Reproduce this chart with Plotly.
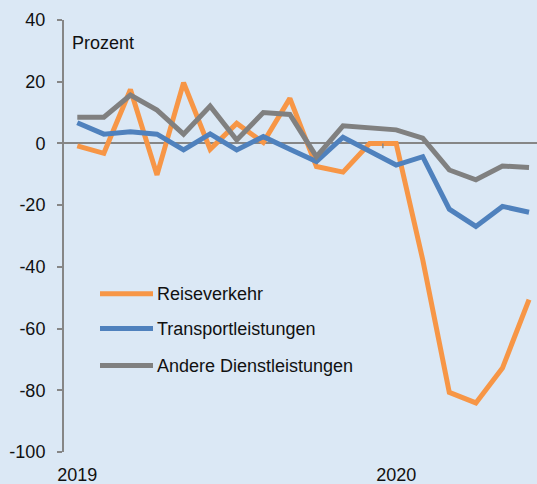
import plotly.graph_objects as go

months = ["2019-01", "2019-02", "2019-03", "2019-04", "2019-05", "2019-06",
          "2019-07", "2019-08", "2019-09", "2019-10", "2019-11", "2019-12",
          "2020-01", "2020-02", "2020-03", "2020-04", "2020-05", "2020-06"]
reiseverkehr = [-0.8, -3.2, 17.5, -10.2, 19.7, -1.9, 6.5, 0.3, 14.6, -7.5, -9.3, 0.0,
                0.0, -37.7, -80.7, -84.1, -72.8, -50.6]
transport = [6.7, 3.0, 3.8, 3.0, -2.1, 3.1, -2.1, 2.2, -1.9, -5.9, 2.0, -2.6,
             -7.0, -4.3, -21.3, -26.9, -20.4, -22.3]
andere = [8.5, 8.5, 15.7, 10.8, 3.0, 12.1, 1.1, 10.0, 9.4, -4.3, 5.7, 4.9,
          4.4, 1.7, -8.6, -11.8, -7.3, -7.8]
series_names = ["Reiseverkehr", "Transportleistungen", "Andere Dienstleistungen"]
series_values = [reiseverkehr, transport, andere]
colors = ["#F79646", "#4F81BD", "#808080"]
year_ticks = [0, 12]
year_labels = ["2019", "2020"]
y_ticks = [40, 20, 0, -20, -40, -60, -80, -100]
y_tick_labels = ["40", "20", "0", "-20", "-40", "-60", "-80", "-100"]

x = list(range(len(months)))
font = "Liberation Sans, Arial, sans-serif"
bg = "#DBE8F5"
fs = 18

fig = go.Figure()
for name, vals, col in zip(series_names, series_values, colors):
    fig.add_trace(go.Scatter(x=x, y=vals, mode="lines", name=name,
                             line=dict(color=col, width=5),
                             showlegend=False))

# manual legend
legend_y = [-48.7, -60.0, -72.0]
for name, col, ly in zip(series_names, colors, legend_y):
    fig.add_shape(type="line", xref="paper", yref="y",
                  x0=(100 - 64) / 473, x1=(153 - 64) / 473, y0=ly, y1=ly,
                  line=dict(color=col, width=5))
    fig.add_annotation(text=name, xref="paper", yref="y",
                       x=(155 - 64) / 473, y=ly, xanchor="left", yanchor="middle",
                       showarrow=False, font=dict(family=font, size=fs, color="#111"))

fig.add_annotation(text="Prozent", xref="paper", yref="y",
                   x=(70 - 64) / 473, y=32.5, xanchor="left", yanchor="middle",
                   showarrow=False, font=dict(family=font, size=fs, color="#111"))

# small tick on zero line at year boundary
fig.add_shape(type="line", xref="x", yref="y", x0=11.5, x1=11.5, y0=0, y1=-1.6,
              line=dict(color="#868686", width=1.5))

fig.update_layout(
    width=537, height=484,
    margin=dict(l=64, r=0, t=20, b=32),
    paper_bgcolor=bg, plot_bgcolor=bg,
    font=dict(family=font, size=fs, color="#111"),
    xaxis=dict(range=[-0.5, 17.3], tickvals=year_ticks, ticktext=year_labels,
               showgrid=False, zeroline=False, showline=False,
               ticks="outside", ticklen=0, ticklabelstandoff=6,
               tickfont=dict(size=fs)),
    yaxis=dict(range=[-100, 40], tickvals=y_ticks, ticktext=y_tick_labels,
               showgrid=False,
               zeroline=True, zerolinecolor="#868686", zerolinewidth=1.5,
               showline=True, linecolor="#868686", linewidth=2,
               ticks="outside", ticklen=5, tickcolor="#868686", tickwidth=1.5,
               ticklabelstandoff=8, tickfont=dict(size=fs)),
)

fig.write_html("out.html", config={"displayModeBar": False},
               post_script="document.body.style.margin='0';"
                           "document.body.style.background='#DBE8F5';")
